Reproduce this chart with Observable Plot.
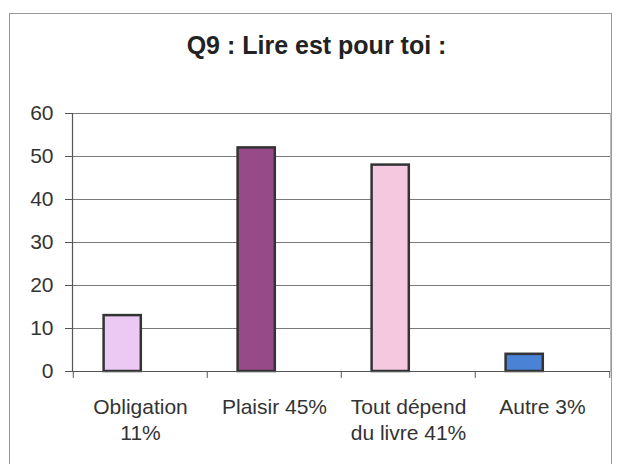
<!DOCTYPE html>
<html>
<head>
<meta charset="utf-8">
<script src="https://cdn.jsdelivr.net/npm/d3@7"></script>
<script src="https://cdn.jsdelivr.net/npm/@observablehq/plot@0.6"></script>
<style>
  html, body { margin: 0; padding: 0; background: #fff; width: 619px; height: 464px; overflow: hidden; }
  body { position: relative; font-family: "Liberation Sans", Arial, sans-serif; }
  #border { position: absolute; left: 9px; top: 13px; width: 603px; height: 470px; border: 1px solid #999; box-sizing: border-box; }
  #title { position: absolute; left: 7px; top: 33px; width: 619px; text-align: center; font-weight: bold; font-size: 25px; line-height: 24px; color: #222; }
  #chart { position: absolute; left: 0; top: 80px; }
</style>
</head>
<body>
<div id="border"></div>
<div id="title">Q9 : Lire est pour toi :</div>
<div id="chart"></div>
<script>
const categories = ["Obligation\n11%", "Plaisir 45%", "Tout dépend\ndu livre 41%", "Autre 3%"];
const values = [13, 52, 48, 4];
const colors = ["#ecc9f3", "#974a88", "#f5c8e0", "#4a82d6"];
const yTicks = [0, 10, 20, 30, 40, 50, 60];

const data = categories.map((c, i) => ({cat: c, value: values[i], color: colors[i]}));

const W = 619, H = 384, mL = 72, mR = 9, mT = 33, mB = 93;
const step = (W - mL - mR) / categories.length;

const chart = Plot.plot({
  width: W,
  height: H,
  marginLeft: mL,
  marginRight: mR,
  marginTop: mT,
  marginBottom: mB,
  style: {fontFamily: "'Liberation Sans', Arial, sans-serif", color: "#333", background: "transparent"},
  x: {domain: categories, padding: 0, axis: null, label: null},
  y: {domain: [0, 60], axis: null, label: null},
  marks: [
    Plot.gridY(yTicks, {stroke: "#7a7a7a", strokeOpacity: 1, strokeWidth: 1}),
    Plot.frame({anchor: "right", stroke: "#bbb"}),
    Plot.barY(data, {
      x: "cat", y: "value", fill: "color",
      stroke: "#333", strokeWidth: 2.5,
      insetLeft: 30.6, insetRight: step - 30.6 - 37.7
    }),
    Plot.ruleY([0], {stroke: "#555", strokeWidth: 1.2}),
    Plot.frame({anchor: "left", stroke: "#555", strokeWidth: 1.2}),
    Plot.ruleX(categories, {x: d => d, y1: 0, y2: -1.6, dx: -step / 2, stroke: "#555"}),
    Plot.ruleX(categories.slice(-1), {x: d => d, y1: 0, y2: -1.6, dx: step / 2, stroke: "#555"}),
    Plot.axisY(yTicks, {anchor: "left", label: null, tickSize: 7, tickPadding: 12, fontSize: 21, stroke: "#555", fill: "#333"}),
    Plot.axisX({anchor: "bottom", label: null, tickSize: 0, tickPadding: 24, fontSize: 21, lineHeight: 1.25, fill: "#333"})
  ]
});
document.getElementById("chart").appendChild(chart);
</script>
</body>
</html>
